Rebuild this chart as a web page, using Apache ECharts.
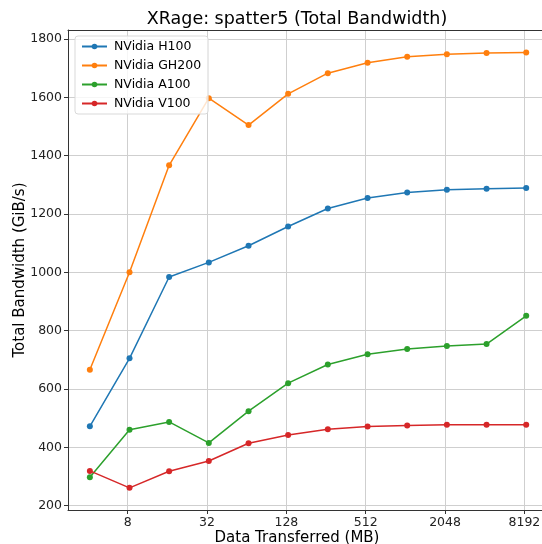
<!DOCTYPE html>
<html><head><meta charset="utf-8">
<script src="https://cdn.jsdelivr.net/npm/echarts@6/dist/echarts.min.js"></script>
<style>html,body{margin:0;padding:0;background:#fff}#c{width:542px;height:544px}</style>
</head><body><div id="c"></div>
<script>
const sizes = [4.13, 8.26, 16.5, 33.0, 66.1, 132, 264, 529, 1057, 2114, 4228, 8456];
const xTicks = [8, 32, 128, 512, 2048, 8192];
const yTicks = [200, 400, 600, 800, 1000, 1200, 1400, 1600, 1800];
const h100 = [472, 705, 984, 1034, 1091, 1157, 1219, 1255, 1274, 1283, 1287, 1289];
const gh200 = [666, 1000, 1367, 1597, 1505, 1612, 1683, 1719, 1739, 1748, 1752, 1754];
const a100 = [297, 460, 487, 415, 524, 620, 684, 719, 737, 747, 754, 851];
const v100 = [319, 261, 318, 353, 414, 442, 462, 471, 475, 477, 477, 477];
const names = ['NVidia H100', 'NVidia GH200', 'NVidia A100', 'NVidia V100'];
const colors = ['#1f77b4', '#ff7f0e', '#2ca02c', '#d62728'];
const values = [h100, gh200, a100, v100];

const FONT = 'DejaVu Sans';
const X_MIN = 2.819, X_MAX = 12374;
const chart = echarts.init(document.getElementById('c'), null, {renderer: 'canvas'});
chart.setOption({
  animation: false,
  backgroundColor: '#fff',
  textStyle: {fontFamily: FONT},
  grid: {left: 68, top: 30, width: 480, bottom: 34, show: false, outerBoundsMode: 'none', containLabel: false},
  legend: {
    orient: 'vertical', left: 75, top: 36,
    data: names,
    itemWidth: 25, itemHeight: 7, itemGap: 6,
    padding: [4, 7, 4, 6],
    borderColor: '#d9d9d9', borderWidth: 1, borderRadius: 3,
    backgroundColor: 'rgba(255,255,255,0.8)',
    textStyle: {fontFamily: FONT, fontSize: 12.5, color: '#000', padding: [0, 0, 0, 2]}
  },
  xAxis: [{
    type: 'log', logBase: 2, min: X_MIN, max: X_MAX,
    axisLine: {lineStyle: {color: '#333', width: 1}},
    axisTick: {show: true, length: 4, lineStyle: {color: '#333'}, customValues: xTicks},
    axisLabel: {customValues: xTicks, formatter: v => String(v), fontSize: 12.5, color: '#222', margin: 6, fontFamily: FONT},
    splitLine: {show: true, lineStyle: {color: '#cfcfcf', width: 1}},
    minorTick: {show: false}, minorSplitLine: {show: false}
  }, {
    type: 'log', logBase: 2, min: X_MIN, max: X_MAX, position: 'top',
    axisLine: {show: true, lineStyle: {color: '#333', width: 1}},
    axisTick: {show: false}, axisLabel: {show: false}, splitLine: {show: false}
  }],
  yAxis: {
    type: 'value', min: 185, max: 1831,
    axisLine: {show: true, lineStyle: {color: '#333', width: 1}},
    axisTick: {show: true, length: 4, lineStyle: {color: '#333'}, customValues: yTicks},
    axisLabel: {customValues: yTicks, formatter: v => String(v), fontSize: 12.5, color: '#222', margin: 6, fontFamily: FONT},
    splitLine: {show: true, lineStyle: {color: '#cfcfcf', width: 1}}
  },
  graphic: [
    {type: 'text', x: 297, y: 19, style: {text: 'XRage: spatter5 (Total Bandwidth)', font: '17.5px "DejaVu Sans"', fill: '#000', textAlign: 'center', textVerticalAlign: 'middle'}},
    {type: 'text', x: 297, y: 538, style: {text: 'Data Transferred (MB)', font: '15px "DejaVu Sans"', fill: '#000', textAlign: 'center', textVerticalAlign: 'middle'}},
    {type: 'text', x: 20, y: 270, rotation: Math.PI / 2, style: {text: 'Total Bandwidth (GiB/s)', font: '15px "DejaVu Sans"', fill: '#000', textAlign: 'center', textVerticalAlign: 'middle'}}
  ],
  series: names.map((n, i) => ({
    name: n, type: 'line',
    data: sizes.map((s, j) => [s, values[i][j]]),
    symbol: 'circle', symbolSize: 6, showSymbol: true,
    color: colors[i],
    lineStyle: {width: 1.5, color: colors[i]},
    itemStyle: {color: colors[i]},
    z: 2 + i
  }))
});
</script>
</body></html>
